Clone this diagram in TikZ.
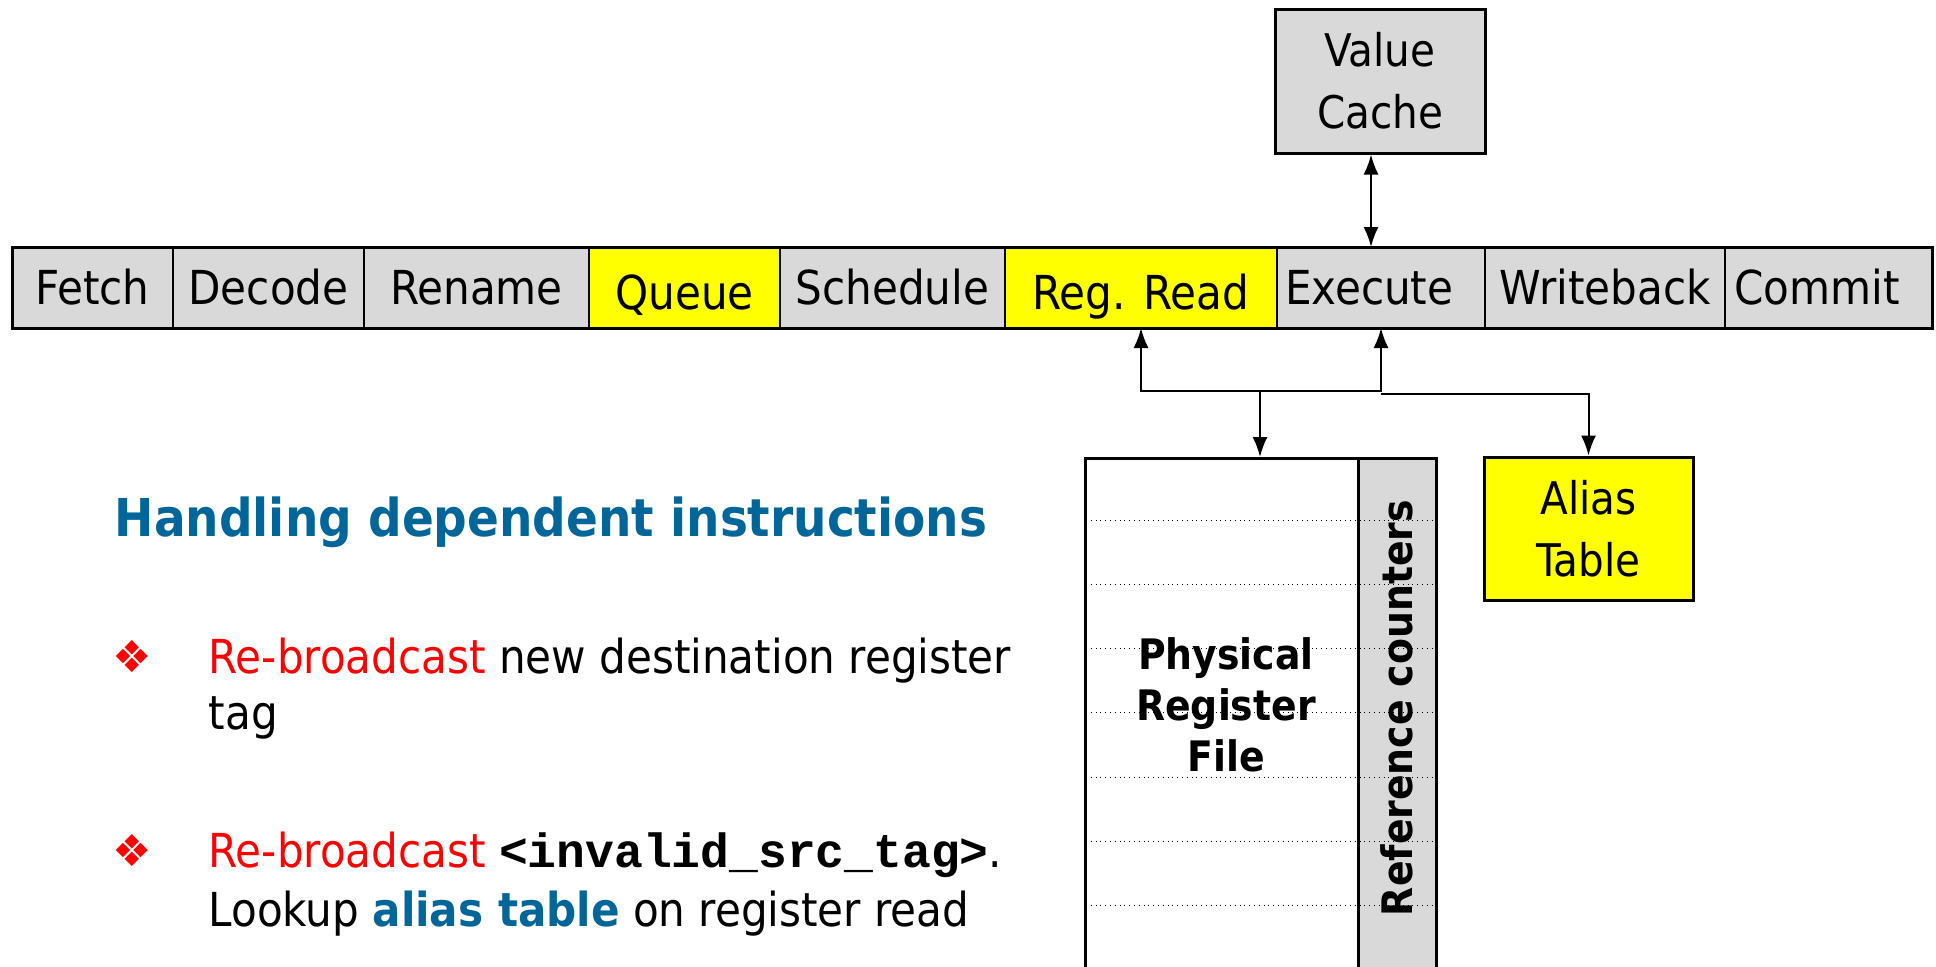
\documentclass[tikz,border=0pt]{standalone}
\usepackage{fontspec}
\IfFontExistsTF{DejaVu Sans Condensed}{\setmainfont{DejaVu Sans Condensed}}{\setmainfont{DejaVu Sans}}
\setmonofont{Liberation Mono}
\newfontfamily\dingfont{DejaVu Sans}
\usetikzlibrary{arrows.meta, positioning}
\definecolor{stagegray}{HTML}{D9D9D9}
\definecolor{hiyellow}{HTML}{FFFF00}
\definecolor{headblue}{HTML}{006699}

\begin{document}
\begin{tikzpicture}[x=0.5pt, y=-0.5pt, >={Latex[length=10pt,width=7.5pt]}, thick,
        stage/.style={rectangle, draw, fill=stagegray, minimum height=40.5pt, inner sep=0pt, outer sep=0pt, text height=17pt, text depth=0pt, font=\fontsize{23.4}{26}\selectfont},
        hot/.style={stage, fill=hiyellow, text height=22pt},
        box/.style={rectangle, draw, line width=1.5pt, fill=stagegray, align=center, inner sep=0pt, font=\fontsize{22.5}{31}\selectfont},
        item/.style={anchor=base west, inner sep=0pt, font=\fontsize{23.4}{28}\selectfont},
        bullet/.style={text=red, inner sep=0pt, font=\dingfont\fontsize{22}{22}\selectfont},
        line/.style={draw, line width=1pt}]
    \useasboundingbox (0,0) rectangle (1936,966);

    % pipeline
    \node [stage, minimum width=80.5pt, anchor=north west] (fetch) at (12,247) {Fetch};
    \node [stage, minimum width=95.5pt, right=0pt of fetch] (decode) {Decode};
    \node [stage, minimum width=112.5pt, right=0pt of decode] (rename) {Rename};
    \node [hot, minimum width=95.5pt, right=0pt of rename] (queue) {Queue};
    \node [stage, minimum width=112.5pt, right=0pt of queue] (sched) {Schedule};
    \node [hot, minimum width=136pt, right=0pt of sched] (regread) {Reg. Read};
    \node [stage, minimum width=104pt, text width=96pt, align=left, right=0pt of regread] (exec) {Execute};
    \node [stage, minimum width=120pt, right=0pt of exec] (wb) {Writeback};
    \node [stage, minimum width=103.5pt, text width=94pt, align=left, right=0pt of wb] (commit) {Commit};
    \draw [line width=1.5pt] (fetch.north west) rectangle (commit.south east);

    \node [box, minimum width=105pt, minimum height=72pt] (vcache) at (1380,81) {Value\\Cache};
    \node [box, fill=hiyellow, minimum width=104.5pt, minimum height=71.5pt] (alias) at (1588.5,528.5) {Alias\\Table};

    % register file
    \node [rectangle, draw, line width=1.5pt, minimum width=175.5pt, minimum height=272pt, anchor=north west, inner sep=0pt] (prf) at (1084,457) {};
    \node [rectangle, draw, line width=1.5pt, fill=stagegray, minimum width=39pt, minimum height=272pt, anchor=north east, inner sep=0pt] (refcnt) at (prf.north east) {};
    \foreach \y in {520,584,648,712,777,841,905}
        \draw [dotted, thin] (1086,\y) -- (1433,\y);
    \node [align=center, font=\bfseries\fontsize{21}{25.5}\selectfont] (prflabel) at (1226,705) {Physical\\Register\\File};
    \node [rotate=90, font=\bfseries\fontsize{21}{25}\selectfont] (refcntlabel) at (1397,708) {Reference counters};

    % connections
    \coordinate (bus) at (1260,391);
    \path [line, <->] ([xshift=-4.5pt]vcache.south) -- ([xshift=-4.5pt]vcache.south |- exec.north);
    \path [line, <->] (regread.south) |- (bus) -| (exec.south);
    \path [line, ->] (bus) -- (bus |- prf.north);
    \path [line, ->] ([yshift=-1.5pt]exec.south |- bus) -| (alias.north);

    % text
    \node [anchor=base west, inner sep=0pt, text=headblue, font=\bfseries\fontsize{26.1}{32}\selectfont] (heading) at (114,536) {Handling dependent instructions};
    \node [bullet] (bul1) at (132,657) {❖};
    \node [item] (item1a) at (208,673) {\textcolor{red}{Re-broadcast} new destination register};
    \node [item] (item1b) at (208,729) {tag};
    \node [bullet] (bul2) at (132,851) {❖};
    \node [item] (item2a) at (208,867) {\textcolor{red}{Re-broadcast} {\ttfamily\bfseries\fontsize{24}{28}\selectfont <invalid\_src\_tag>}.};
    \node [item] (item2b) at (208,926) {Lookup \textcolor{headblue}{\bfseries alias table} on register read};

\end{tikzpicture}
\end{document}
